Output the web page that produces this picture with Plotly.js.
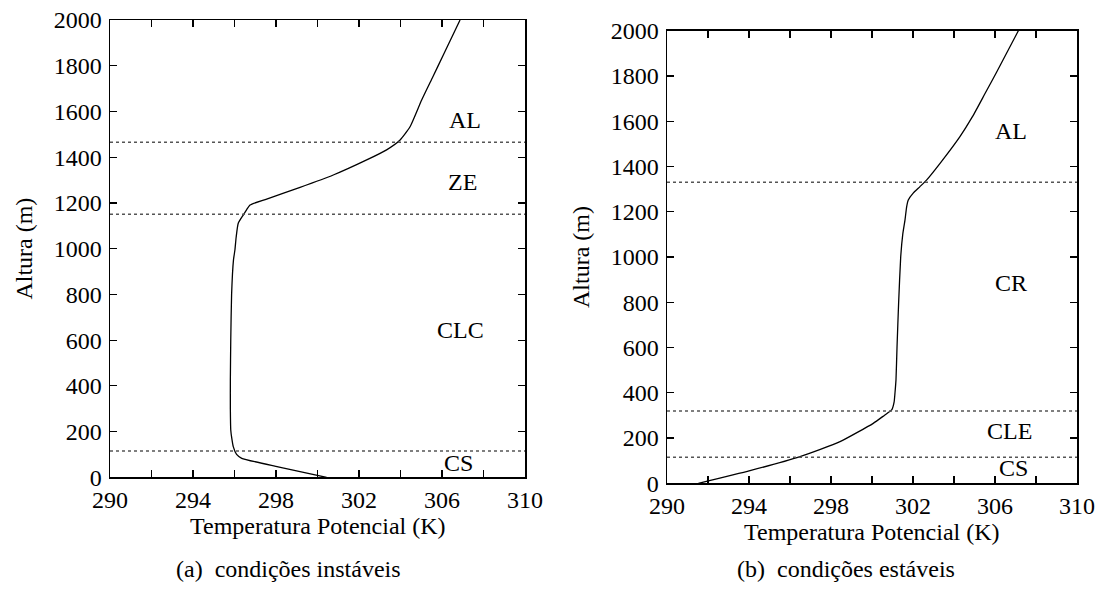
<!DOCTYPE html>
<html>
<head>
<meta charset="utf-8">
<script src="https://cdn.plot.ly/plotly-3.0.1.min.js"></script>
<style>
html,body{margin:0;padding:0;background:#fff;}
#chart{width:1104px;height:606px;}
</style>
</head>
<body>
<div id="chart"></div>
<script>
// (a) unstable conditions: potential temperature (K) vs height (m)
const heightUnstable = [0, 46, 83, 100, 134, 170, 207, 300, 425, 600, 800, 950, 994, 1050, 1111, 1147, 1170, 1191, 1217, 1268, 1322, 1388, 1432, 1475, 1533, 1650, 1750, 1850, 2000];
const thetaUnstable  = [300.44, 298.1, 296.35, 296.1, 295.94, 295.87, 295.82, 295.8, 295.8, 295.82, 295.86, 295.95, 296.02, 296.08, 296.18, 296.42, 296.58, 296.75, 297.55, 299.16, 300.76, 302.37, 303.33, 303.98, 304.46, 305.02, 305.55, 306.08, 306.87];
// (b) stable conditions
const heightStable = [0, 56, 118, 184, 265, 300, 324, 360, 398, 457, 600, 800, 1000, 1100, 1164, 1222, 1252, 1282, 1311, 1341, 1414, 1532, 1620, 1720, 1812, 2000];
const thetaStable  = [291.53, 294.05, 296.49, 298.44, 300.06, 300.6, 300.96, 301.08, 301.12, 301.17, 301.22, 301.3, 301.4, 301.5, 301.61, 301.69, 301.77, 302.01, 302.34, 302.67, 303.32, 304.29, 304.9, 305.5, 306.05, 307.14];

// layer boundaries (m)
const boundsUnstable = [115, 1150, 1465];
const boundsStable = [115, 320, 1330];

// layer labels
const labelsUnstable = ['AL', 'ZE', 'CLC', 'CS'];
const labelXUnstable = [307.1, 307.0, 306.9, 306.8];
const labelYUnstable = [1562, 1291, 643, 61];
const labelsStable = ['AL', 'CR', 'CLE', 'CS'];
const labelXStable = [306.8, 306.8, 306.7, 306.9];
const labelYStable = [1557, 885, 231, 68];

const captions = ['(a)  condições instáveis', '(b)  condições estáveis'];
const xTitle = 'Temperatura Potencial (K)';
const yTitle = 'Altura (m)';

function f() { return {family: 'Liberation Serif', size: 24, color: 'black'}; }

const traces = [
  {x: thetaUnstable, y: heightUnstable, xaxis: 'x', yaxis: 'y', mode: 'lines',
   line: {color: 'black', width: 1.3, shape: 'spline', smoothing: 0.5}, hoverinfo: 'skip'},
  {x: thetaStable, y: heightStable, xaxis: 'x2', yaxis: 'y2', mode: 'lines',
   line: {color: 'black', width: 1.3, shape: 'spline', smoothing: 0.5}, hoverinfo: 'skip'}
];

function xax(domain, anchor) {
  return {
    domain: domain, anchor: anchor, range: [290, 310], tick0: 290, dtick: 4,
    ticks: 'inside', ticklen: 7, tickwidth: 1.2, tickcolor: 'black',
    minor: {dtick: 2, tick0: 290, ticks: 'inside', ticklen: 7, tickwidth: 1.2, tickcolor: 'black', showgrid: false},
    showline: true, linecolor: 'black', linewidth: 1.5, mirror: 'ticks',
    showgrid: false, zeroline: false, tickfont: f(), ticklabelstandoff: 0
  };
}
function yax(domain, anchor) {
  return {
    domain: domain, anchor: anchor, range: [0, 2000], tick0: 0, dtick: 200,
    ticks: 'inside', ticklen: 7, tickwidth: 1.2, tickcolor: 'black',
    showline: true, linecolor: 'black', linewidth: 1.5, mirror: 'ticks',
    showgrid: false, zeroline: false, tickfont: f(), ticklabelstandoff: 2,
    title: {text: yTitle, font: f(), standoff: 14}
  };
}

const shapes = [];
boundsUnstable.forEach(v => shapes.push({type: 'line', xref: 'x domain', yref: 'y', x0: 0, x1: 1, y0: v, y1: v,
  line: {color: '#555', width: 1.5, dash: 'dot'}}));
boundsStable.forEach(v => shapes.push({type: 'line', xref: 'x2 domain', yref: 'y2', x0: 0, x1: 1, y0: v, y1: v,
  line: {color: '#555', width: 1.5, dash: 'dot'}}));

const annotations = [];
labelsUnstable.forEach((t, i) => annotations.push({text: t, x: labelXUnstable[i], y: labelYUnstable[i], xref: 'x', yref: 'y', showarrow: false, font: f()}));
labelsStable.forEach((t, i) => annotations.push({text: t, x: labelXStable[i], y: labelYStable[i], xref: 'x2', yref: 'y2', showarrow: false, font: f()}));
// x-axis titles
annotations.push({text: xTitle, x: 0.5, y: 1 - 526/606, xref: 'x domain', yref: 'paper', showarrow: false, font: f(), xanchor: 'center', yanchor: 'middle'});
annotations.push({text: xTitle, x: 0.5, y: 1 - 532/606, xref: 'x2 domain', yref: 'paper', showarrow: false, font: f(), xanchor: 'center', yanchor: 'middle'});
// sub-captions
annotations.push({text: captions[0], x: 288/1104, y: 1 - 569/606, xref: 'paper', yref: 'paper', showarrow: false, font: f(), xanchor: 'center', yanchor: 'middle'});
annotations.push({text: captions[1], x: 846/1104, y: 1 - 569/606, xref: 'paper', yref: 'paper', showarrow: false, font: f(), xanchor: 'center', yanchor: 'middle'});

const layout = {
  width: 1104, height: 606,
  margin: {l: 0, r: 0, t: 0, b: 0},
  paper_bgcolor: 'white', plot_bgcolor: 'white',
  showlegend: false,
  font: f(),
  xaxis: xax([110/1104, 525/1104], 'y'),
  yaxis: yax([1 - 477.3/606, 1 - 20/606], 'x'),
  xaxis2: xax([667/1104, 1077/1104], 'y2'),
  yaxis2: yax([1 - 483.3/606, 1 - 30.7/606], 'x2'),
  shapes: shapes,
  annotations: annotations
};

Plotly.newPlot('chart', traces, layout, {staticPlot: true, displayModeBar: false});
</script>
</body>
</html>
